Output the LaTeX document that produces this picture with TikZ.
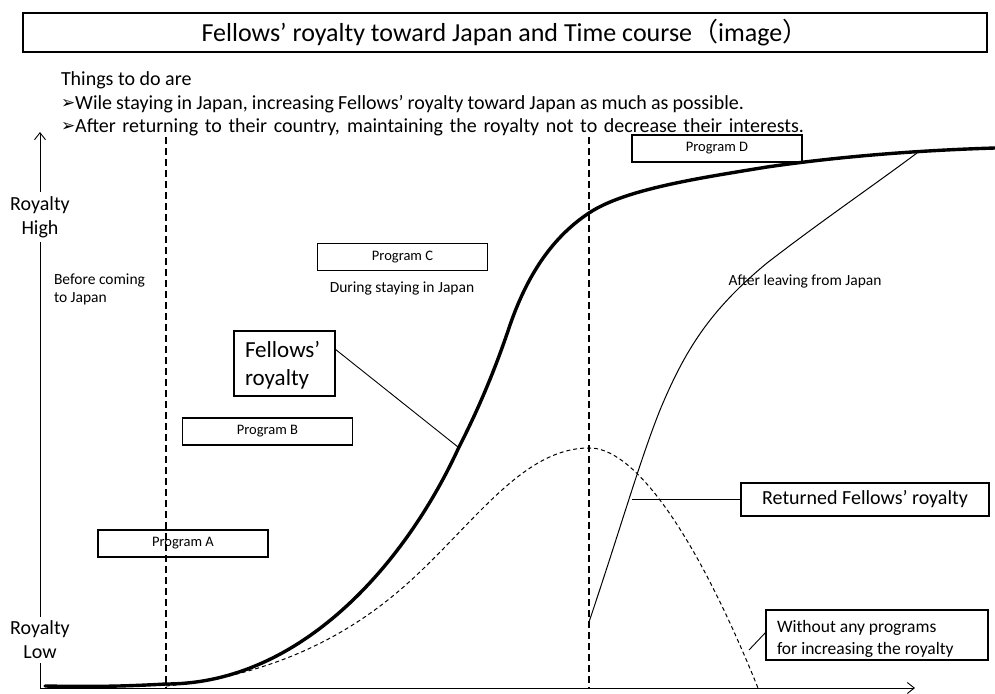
\documentclass[tikz,border=0pt]{standalone}
\usepackage{fontspec}
\setmainfont{Carlito}
\newfontfamily\symfont{DejaVu Sans}
\newfontfamily\cjkfont{Noto Sans CJK JP}
\usetikzlibrary{arrows.meta}
\newcommand{\fsz}[2]{\fontsize{#1}{#2}\selectfont}
\newcommand{\bul}{{\symfont\fsz{17}{17}\raisebox{0.5pt}{➢}}}
\begin{document}
\begin{tikzpicture}[x=1pt,y=-1pt,
  every node/.style={inner sep=0pt,outer sep=0pt},
  prog/.style={draw,line width=1.8pt,minimum width=170pt,minimum height=27pt,font=\fsz{14.5}{17}},
  callout/.style={draw,line width=1.1pt},
  plain/.style={font=\fsz{15.5}{18}},
  axlbl/.style={fill=white,align=center,inner xsep=2pt,inner ysep=4pt,font=\fsz{20}{24}},
  axisline/.style={line width=0.9pt},
  divline/.style={line width=1.1pt,dash pattern=on 7pt off 4pt},
  mainc/.style={line width=3.4pt,line cap=round},
  thinc/.style={line width=1pt},
  dashc/.style={line width=1pt,dash pattern=on 4pt off 3pt},
  leader/.style={line width=0.9pt},
  barb/.style={-{Straight Barb[length=7pt,width=11pt]}}
]
\useasboundingbox (0,0) rectangle (995,693);

% heading
\node[draw,line width=2.5pt,minimum width=964pt,minimum height=39pt,font=\fsz{26}{30}]
  (title) at (505,32.5) {Fellows’ royalty toward Japan and Time course{\cjkfont （}image{\cjkfont ）}};

% what needs to be done
\node[anchor=base west,font=\fsz{20}{24}] (todo) at (61,85) {Things to do are};
\node[anchor=base west,font=\fsz{20}{24}] (todo1) at (61,109) {\hbox to 683pt{\bul Wile staying in Japan, increasing Fellows’ royalty toward Japan as much as possible.}};
\node[anchor=base west,font=\fsz{20}{24}] (todo2) at (61,132) {\hbox to 743pt{\bul After returning to their country, maintaining the royalty not to decrease their interests.}};

% phase dividers
\coordinate (d1t) at (166,137); \coordinate (d1b) at (166,688);
\coordinate (d2t) at (589,137); \coordinate (d2b) at (589,688);
\draw[divline] (d1t) -- (d1b);
\draw[divline] (d2t) -- (d2b);

% axes
\coordinate (o) at (40,688);
\coordinate (ytop) at (40,132);
\coordinate (xend) at (915,688);
\draw[axisline,barb] (o) -- (ytop);
\draw[axisline,barb] (o) -- (xend);
\node[axlbl] (high) at (40,217) {Royalty\\High};
\node[axlbl] (low) at (40,640) {Royalty\\Low};

% curve without any programs
\draw[dashc] (166,686) .. controls (250,678) and (330,650) .. (400,590)
  .. controls (470,530) and (520,448) .. (589,448)
  .. controls (630,447) and (690,520) .. (758,688);

% returned fellows' royalty
\draw[thinc] (589,622) .. controls (620,530) and (640,460) .. (660,410)
  .. controls (685,350) and (710,310) .. (767,263)
  .. controls (820,222) and (870,188) .. (917,153);

% fellows' royalty
\draw[mainc] (45,686) .. controls (100,687) and (130,686) .. (166,684)
  .. controls (300,684) and (405,565) .. (459,447)
  .. controls (478,410) and (495,370) .. (510,325)
  .. controls (525,282) and (548,240) .. (589,213)
  .. controls (625,189) and (700,178) .. (767,167)
  .. controls (850,155) and (930,150) .. (995,148);

% programs
\node[prog] (pa) at (183,543.5) {Program A};
\node[prog] (pb) at (267.5,431.5) {Program B};
\node[prog] (pc) at (402.5,257) {Program C};
\node[prog] (pd) at (717,148.5) {Program D};

% phase labels
\node[plain,anchor=base west,align=left] (before) at (54,302) {Before coming\\to Japan};
\node[plain] (during) at (402,288) {During staying in Japan};
\node[plain] (after) at (805,281) {After leaving from Japan};

% call-outs
\node[callout,minimum width=101pt,minimum height=65pt] (fbox) at (284.5,363.5) {};
\node[anchor=base west,align=left,font=\fsz{23}{28}] (ftxt) at (245,385.5) {Fellows’\\royalty};
\coordinate (fk) at (458,447);
\draw[leader] ([yshift=14.5pt]fbox.east) -- (fk);

\node[callout,minimum width=248pt,minimum height=33pt,font=\fsz{20}{24}] (rbox) at (865,499.5) {Returned Fellows’ royalty};
\coordinate (rk) at (632,499.5);
\draw[leader] (rbox.west) -- (rk);

\node[callout,minimum width=222pt,minimum height=50pt] (wbox) at (877,635) {};
\node[anchor=base west,align=left,font=\fsz{17.5}{22}] (wtxt) at (777,654) {Without any programs\\for increasing the royalty};
\coordinate (wk) at (749,650);
\draw[leader] ([yshift=3pt]wbox.west) -- (wk);
\end{tikzpicture}
\end{document}
